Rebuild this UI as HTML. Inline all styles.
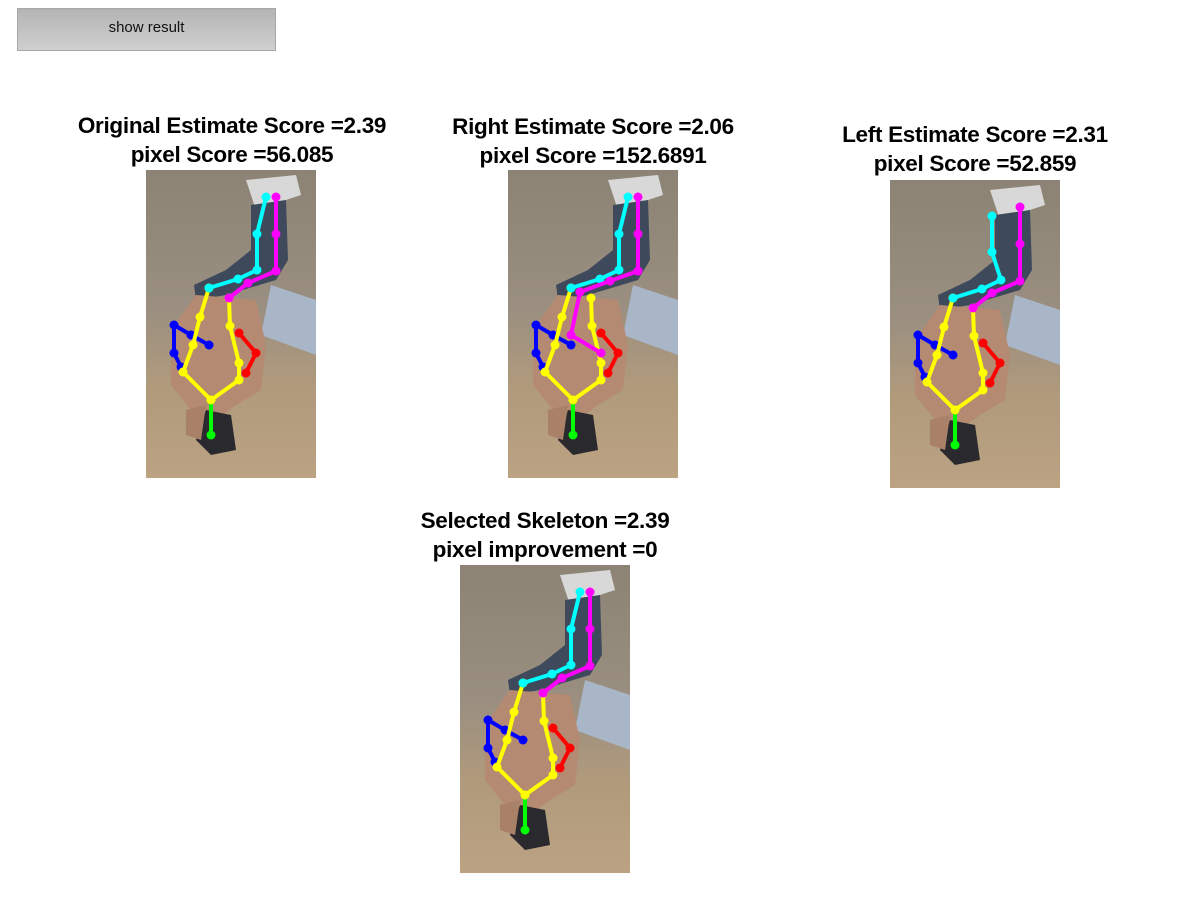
<!DOCTYPE html>
<html><head><meta charset="utf-8">
<style>
body{margin:0;width:1200px;height:900px;background:#fff;position:relative;font-family:"Liberation Sans",sans-serif;overflow:hidden}
.btn{position:absolute;left:17px;top:8px;width:259px;height:43px;border:1px solid #a8a8a8;background:linear-gradient(#b4b4b4,#cfcfcf);font-size:15px;color:#111;display:flex;align-items:center;justify-content:center;box-sizing:border-box;padding-bottom:4px}
.title{position:absolute;width:460px;text-align:center;font-weight:bold;font-size:22.5px;line-height:29px;color:#000;letter-spacing:-0.3px}
svg.panel{position:absolute}
</style></head><body>
<div class="btn">show result</div>

<div class="title" style="left:2px;top:111px">Original Estimate Score =2.39<br>pixel Score =56.085</div>
<div class="title" style="left:363px;top:112px">Right Estimate Score =2.06<br>pixel Score =152.6891</div>
<div class="title" style="left:745px;top:120px">Left Estimate Score =2.31<br>pixel Score =52.859</div>
<div class="title" style="left:315px;top:506px">Selected Skeleton =2.39<br>pixel improvement =0</div>

<svg width="0" height="0" style="position:absolute">
<defs>
<linearGradient id="bg" x1="0" y1="0" x2="0" y2="1">
<stop offset="0" stop-color="#8c8375"/><stop offset="0.45" stop-color="#9a8f80"/><stop offset="0.7" stop-color="#b09a7c"/><stop offset="1" stop-color="#bba283"/></linearGradient>
<g id="photo">
<rect width="170" height="308" fill="url(#bg)"/>
<path d="M100 10 L150 5 L155 25 L110 40 Z" fill="#d8d8d8"/>
<path d="M105 35 L140 30 L142 90 L130 110 L80 125 L50 130 L48 115 L80 100 L105 80 Z" fill="#3e4a5c"/>
<path d="M125 115 L170 130 L170 185 L115 165 Z" fill="#a9b6c8"/>
<path d="M50 125 L110 130 L120 175 L115 220 L90 235 L70 250 L45 240 L25 215 L25 160 Z" fill="#b58a72"/>
<path d="M60 240 L85 245 L90 280 L65 285 L50 270 Z" fill="#2a2a2e"/>
<path d="M40 240 L60 235 L55 270 L40 265 Z" fill="#a98068"/>
</g>
</defs></svg>

<svg class="panel" style="left:146px;top:170px" width="170" height="308"><use href="#photo"/><g class="skel" data-variant="orig"></g></svg>
<svg class="panel" style="left:508px;top:170px" width="170" height="308"><use href="#photo"/><g class="skel" data-variant="right"></g></svg>
<svg class="panel" style="left:890px;top:180px" width="170" height="308"><use href="#photo"/><g class="skel" data-variant="left"></g></svg>
<svg class="panel" style="left:460px;top:565px" width="170" height="308"><use href="#photo"/><g class="skel" data-variant="orig"></g></svg>

<script>
const cyanOrig=[[120,27],[111,64],[111,100],[92,109],[63,118]];
const cyanLeft=[[102,36],[102,72],[111,100],[92,109],[63,118]];
const magentaOrig=[[130,27],[130,64],[130,101],[102,113],[83,128]];
const magentaRight=[[102,111],[72,122],[63,165],[93,183]];
const yellowLimb=[[63,118],[54,147],[47,175],[37,202],[65,230],[93,210],[93,193],[84,156],[83,128]];
const blueLimb=[[35,197],[28,183],[28,155],[45,165],[63,175]];
const redLimb=[[100,203],[110,183],[93,163]];
const greenLimb=[[65,230],[65,265]];
const NS='http://www.w3.org/2000/svg';
function poly(g,pts,color,name){
  const p=document.createElementNS(NS,'polyline');
  p.setAttribute('points',pts.map(q=>q.join(',')).join(' '));
  p.setAttribute('fill','none');p.setAttribute('stroke',color);p.setAttribute('stroke-width','4');p.setAttribute('stroke-linejoin','round');
  
  
  g.appendChild(p);
  pts.forEach(q=>{const c=document.createElementNS(NS,'circle');c.setAttribute('cx',q[0]);c.setAttribute('cy',q[1]);c.setAttribute('r','4.5');c.setAttribute('fill',color);
  
  
  g.appendChild(c);});
}
document.querySelectorAll('.skel').forEach(g=>{
  const v=g.getAttribute('data-variant');
  
  
  poly(g,blueLimb,'#0000ff','blue-limb');
  poly(g,redLimb,'#ff0000','red-limb');
  poly(g,greenLimb,'#00ff00','green-limb');
  poly(g,yellowLimb,'#ffff00','yellow-torso');
  poly(g,v==='left'?cyanLeft:cyanOrig,'#00ffff','cyan-leg');
  if(v==='right'){poly(g,magentaOrig.slice(0,3),'#ff00ff','magenta-leg');poly(g,[[130,101]].concat(magentaRight),'#ff00ff','magenta-arm');}
  else poly(g,magentaOrig,'#ff00ff','magenta-leg');
});
</script>
</body></html>
